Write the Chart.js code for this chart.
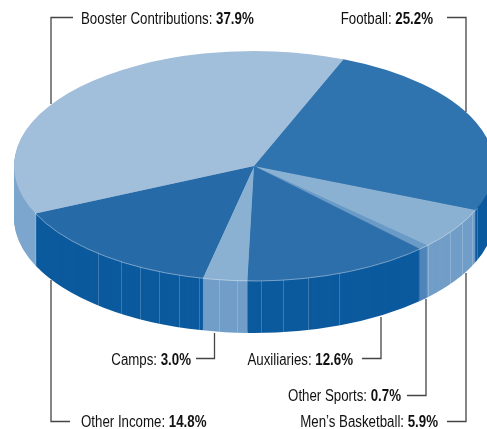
<!DOCTYPE html>
<html>
<head>
<meta charset="utf-8">
<style>
  html, body { margin:0; padding:0; background:#fff; }
  #wrap { width:487px; height:429px; position:relative; overflow:hidden; }
</style>
<script src="https://cdn.jsdelivr.net/npm/chart.js@4/dist/chart.umd.min.js"></script>
</head>
<body>
<div id="wrap"><canvas id="pie"></canvas></div>
<script>
// slices run clockwise, starting at the Football edge
const categories = ["Football","Men\u2019s Basketball","Other Sports","Auxiliaries","Camps","Other Income","Booster Contributions"];
const shares = [25.2,5.9,0.7,12.6,3.0,14.8,37.9];
const topColors = ["#2f74ae","#8ab0d2","#6a9ac6","#2d6fab","#8ab0d2","#266aa8","#a1beda"];
const sideColors = ["#0c5a9e","#719ec8","#4f85ba","#0c5a9e","#719ec8","#0c5a9e","#7da7ce"];

/* ---------- pie geometry on the page ---------- */
const CX=254, CY=166, RX=240, RY=115, DEPTH=52;

/* ---------- faint facet lines on the rim (page x) ---------- */
const seamX = [35,98,121,140,159,179,199,219,237,261,283,308,339,428,450,462,472,477];

/* ---------- labels + leader lines ---------- */
const labelLayout = [
  {x:433,y:24,align:"right",line:[[447,17.5],[466,17.5],[466,112]]},
  {x:438,y:427,align:"right",line:[[447,421.5],[466,421.5],[466,273]]},
  {x:401,y:401,align:"right",line:[[407,395.5],[426,395.5],[426,299]]},
  {x:353,y:365,align:"right",line:[[362,358.5],[381,358.5],[381,317]]},
  {x:191,y:365,align:"right",line:[[196,358.5],[214.5,358.5],[214.5,333]]},
  {x:81,y:427,align:"left",line:[[70,421.5],[51,421.5],[51,280]]},
  {x:81,y:24,align:"left",line:[[73,17.5],[51,17.5],[51,104]]}
];
const TEXT_SQUEEZE=0.83;   // no condensed face installed, so narrow the sans

function drawArcs(ctx,meta,colors,offset){
  meta.data.forEach((arc,i)=>{
    const o=arc.options, R=arc.outerRadius;
    ctx.save();
    ctx.translate(CX,CY+offset);
    ctx.scale(RX/R,RY/R);
    ctx.translate(-arc.x,-arc.y);
    arc.options=Object.assign({},o,{backgroundColor:colors[i]});
    arc.draw(ctx);
    arc.options=o;
    ctx.restore();
  });
}

const pie3d={
  id:"pie3d",
  beforeDatasetsDraw(chart){
    const ctx=chart.ctx, meta=chart.getDatasetMeta(0);
    for(let d=DEPTH;d>0;d--) drawArcs(ctx,meta,sideColors,d);
    drawArcs(ctx,meta,topColors,0);
    return false;
  },
  afterDraw(chart){
    const ctx=chart.ctx;
    ctx.save();
    /* rim */
    ctx.strokeStyle="rgba(255,255,255,0.2)"; ctx.lineWidth=1;
    seamX.forEach(x=>{
      const k=(x-CX)/RX, y=CY+RY*Math.sqrt(1-k*k);
      ctx.beginPath(); ctx.moveTo(x+0.5,y); ctx.lineTo(x+0.5,y+DEPTH); ctx.stroke();
    });
    ctx.strokeStyle="rgba(255,255,255,0.5)"; ctx.lineWidth=0.8;
    ctx.beginPath(); ctx.ellipse(CX,CY,RX,RY,0,0.379,2.72); ctx.stroke();
    /* leaders */
    ctx.strokeStyle="#454545"; ctx.lineWidth=1.3;
    labelLayout.forEach(l=>{
      ctx.beginPath();
      l.line.forEach((p,i)=> i?ctx.lineTo(p[0],p[1]):ctx.moveTo(p[0],p[1]));
      ctx.stroke();
    });
    /* text */
    ctx.fillStyle="#111"; ctx.textBaseline="alphabetic"; ctx.textAlign="left";
    const reg='16px "Liberation Sans"', bold='bold 16px "Liberation Sans"';
    categories.forEach((c,i)=>{
      const a=c+": ", b=shares[i].toFixed(1)+"%", l=labelLayout[i];
      ctx.font=reg; const wa=ctx.measureText(a).width;
      ctx.font=bold; const wb=ctx.measureText(b).width;
      const total=(wa+wb)*TEXT_SQUEEZE;
      ctx.save();
      ctx.translate(l.align==="right"?l.x-total:l.x,l.y);
      ctx.scale(TEXT_SQUEEZE,1);
      ctx.font=reg; ctx.fillText(a,0,0);
      ctx.font=bold; ctx.fillText(b,wa,0);
      ctx.restore();
    });
    ctx.restore();
  }
};

new Chart(document.getElementById("pie"),{
  type:"pie",
  data:{labels:categories,datasets:[{data:shares,backgroundColor:topColors,borderWidth:0}]},
  options:{
    responsive:true,maintainAspectRatio:false,animation:false,
    rotation:21.9,
    layout:{padding:0},
    plugins:{legend:{display:false},tooltip:{enabled:false}}
  },
  plugins:[pie3d]
});
</script>
</body>
</html>
